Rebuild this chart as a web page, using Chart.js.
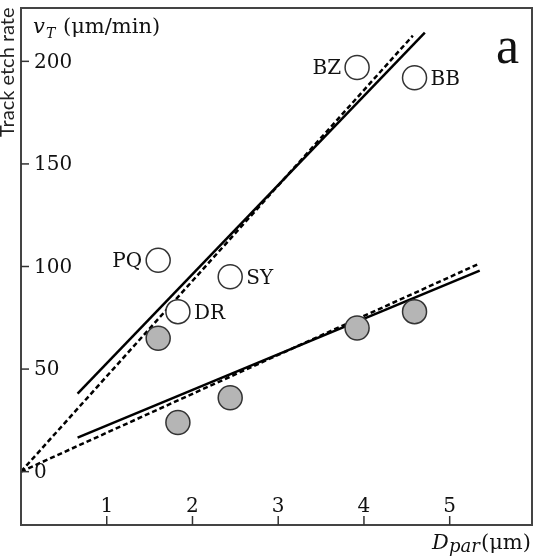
<!DOCTYPE html>
<html>
<head>
<meta charset="utf-8">
<script src="https://cdn.jsdelivr.net/npm/chart.js@4"></script>
<style>
  html, body { margin: 0; padding: 0; background: #fff; }
  #wrap { width: 537px; height: 556px; }
</style>
</head>
<body>
<div id="wrap"><canvas id="etchChart" width="537" height="556"></canvas></div>
<script>
// samples and their D_par (um)
var sampleNames = ['PQ', 'DR', 'SY', 'BZ', 'BB'];
var dpar = [1.6, 1.83, 2.44, 3.92, 4.59];
// track etch rate, open and filled symbols (um/min)
var vtOpen = [103, 78, 95, 197, 192];
var vtFilled = [65, 24, 36, 70, 78];

// fitted lines: solid = free fit, dashed = through origin
var upperFitX = [0.66, 4.71], upperFitY = [38, 214];
var upperDashX = [0, 4.57], upperDashY = [0, 212.5];
var lowerFitX = [0.66, 5.35], lowerFitY = [16.6, 98];
var lowerDashX = [0, 5.35], lowerDashY = [0, 101.5];

var xTicks = [1, 2, 3, 4, 5];
var yTicks = [0, 50, 100, 150, 200];

// label side for each sample name
var labelSide = ['left', 'right', 'right', 'left', 'right'];

function pts(xs, ys) {
    return xs.map(function (x, i) { return { x: x, y: ys[i] }; });
}

var serif = '"DejaVu Serif", serif';

var lineStyle = function (xs, ys, dashed) {
    return {
        data: pts(xs, ys),
        showLine: true,
        borderColor: '#000',
        borderWidth: 2.5,
        borderDash: dashed ? [5, 3] : [],
        pointRadius: 0,
        fill: false,
        order: 2
    };
};

// frame, ticks and all the text
var decor = {
    id: 'decor',
    afterDatasetsDraw: function (chart) {
        var c = chart.ctx, a = chart.chartArea;
        var xs = chart.scales.x, ys = chart.scales.y;
        c.save();
        c.strokeStyle = '#444';
        c.lineWidth = 2;
        c.strokeRect(a.left, a.top, a.right - a.left, a.bottom - a.top);

        c.fillStyle = '#111';
        c.strokeStyle = '#333';
        c.lineWidth = 1.5;
        c.font = '20px ' + serif;
        c.textBaseline = 'middle';
        c.textAlign = 'left';
        yTicks.forEach(function (v) {
            var py = ys.getPixelForValue(v);
            c.beginPath();
            c.moveTo(a.left, py);
            c.lineTo(a.left + 8, py);
            c.stroke();
            c.fillText(String(v), a.left + 13, py + 1);
        });
        c.textAlign = 'center';
        c.textBaseline = 'alphabetic';
        xTicks.forEach(function (v) {
            var px = xs.getPixelForValue(v);
            c.beginPath();
            c.moveTo(px, a.bottom);
            c.lineTo(px, a.bottom - 9);
            c.stroke();
            c.fillText(String(v), px, a.bottom - 13);
        });

        // sample names beside the open circles
        var meta = chart.getDatasetMeta(0);
        c.font = '20px ' + serif;
        c.textBaseline = 'middle';
        meta.data.forEach(function (el, i) {
            if (labelSide[i] === 'left') {
                c.textAlign = 'right';
                c.fillText(sampleNames[i], el.x - 16, el.y + 1);
            } else {
                c.textAlign = 'left';
                c.fillText(sampleNames[i], el.x + 16, el.y + 2);
            }
        });

        // y unit label inside the top left corner
        c.textAlign = 'left';
        c.textBaseline = 'alphabetic';
        c.font = 'italic 21px ' + serif;
        c.fillText('v', 33, 33);
        c.font = 'italic 14px ' + serif;
        c.fillText('T', 46, 38);
        c.font = '21px ' + serif;
        c.fillText('(\u03bcm/min)', 63, 33);

        // panel letter
        c.font = '52px "Liberation Serif", serif';
        c.fillText('a', 496, 63);

        // x axis title below the axis
        c.font = 'italic 21px ' + serif;
        c.fillText('D', 432, 549);
        c.font = 'italic 18px ' + serif;
        c.fillText('par', 449, 552);
        c.font = '21px ' + serif;
        c.fillText('(\u03bcm)', 481, 549);

        // y axis title, rotated and running off the top
        c.translate(14, 137);
        c.rotate(-Math.PI / 2);
        c.font = '20px Lato, sans-serif';
        c.fillStyle = '#222';
        c.fillText('Track etch rate', 0, 0);
        c.restore();
    }
};

var ctx = document.getElementById('etchChart').getContext('2d');
var chart = new Chart(ctx, {
    type: 'scatter',
    data: {
        datasets: [{
            data: pts(dpar, vtOpen),
            pointRadius: 12,
            pointBackgroundColor: '#fff',
            pointBorderColor: '#333',
            pointBorderWidth: 1.5,
            order: 0
        }, {
            data: pts(dpar, vtFilled),
            pointRadius: 12,
            pointBackgroundColor: '#b5b5b5',
            pointBorderColor: '#333',
            pointBorderWidth: 1.5,
            order: 0
        },
        lineStyle(upperFitX, upperFitY, false),
        lineStyle(upperDashX, upperDashY, true),
        lineStyle(lowerFitX, lowerFitY, false),
        lineStyle(lowerDashX, lowerDashY, true)
        ]
    },
    options: {
        responsive: false,
        animation: false,
        layout: { autoPadding: false, padding: { left: 21, top: 8, right: 5, bottom: 31 } },
        plugins: { legend: { display: false }, tooltip: { enabled: false } },
        scales: {
            x: { type: 'linear', min: 0, max: 5.96, display: false },
            y: { type: 'linear', min: -26, max: 226, display: false }
        }
    },
    plugins: [decor]
});
</script>
</body>
</html>
